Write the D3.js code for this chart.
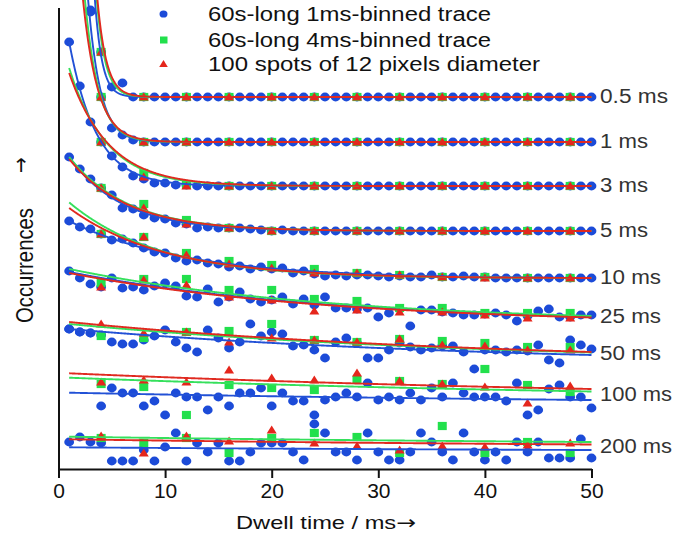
<!DOCTYPE html>
<html>
<head>
<meta charset="utf-8">
<script src="https://cdn.jsdelivr.net/npm/d3@7/dist/d3.min.js"></script>
<style>
  body { margin: 0; background: #fff; }
  svg { display: block; }
  text { font-family: "Liberation Sans", Arial, Helvetica, sans-serif; fill: #1a1a1a; }
</style>
</head>
<body>
<svg id="chart" width="677" height="535"></svg>
<script>
// Dwell-time histograms, each trace shifted upward by its own baseline.
// Values are occurrences above the trace baseline (arbitrary units).
const dwell1 = d3.range(1, 51);        // 1 ms bins
const dwell4 = d3.range(4, 49, 4);     // 4 ms bins
const xTicks = [0, 10, 20, 30, 40, 50];

const traceNames = ["0.5 ms", "1 ms", "3 ms", "5 ms", "10 ms", "25 ms", "50 ms", "100 ms", "200 ms"];
const traceBase  = [372, 327, 283, 238, 191, 152, 114, 69, 19];

const legendLabels = [
  "60s-long 1ms-binned trace",
  "60s-long 4ms-binned trace",
  "100 spots of 12 pixels diameter"
];

// 60 s trace, 1 ms binning
const blue_05 = [400,250,87,45,10,14,0,0,0,0, 0,0,0,0,0,0,0,0,0,0, 0,0,0,0,0,0,0,0,0,0, 0,0,0,0,0,0,0,0,0,0, 0,0,0,0,0,0,0,0,0,0];
const blue_1  = [600,300,130,45,14,7,2,0,0,0, 0,0,0,0,0,0,0,0,0,0, 0,0,0,0,0,0,0,0,0,0, 0,0,0,0,0,0,0,0,0,0, 0,0,0,0,0,0,0,0,0,0];
const blue_3  = [144,100,64,44,30,19,10,7,3,3, 1,1,0,0,0,0,0,0,0,0, 0,0,0,0,0,0,0,0,0,0, 0,0,0,0,0,0,0,0,0,0, 0,0,0,0,0,0,0,0,0,0];
const blue_5  = [74,62,52,43,36,23,22,16,13,12, 8,7,3,4,3,3,3,2,1,0, 1,0,0,0,0,0,0,0,0,0, 0,0,0,0,0,0,0,0,0,0, 0,0,0,0,0,0,0,0,0,0];
const blue_10 = [57,51,49,44,38,39,35,30,26,25, 20,17,18,15,14,11,12,9,11,9, 10,5,7,4,2,3,2,3,3,2, 1,2,1,1,3,1,1,2,1,1, 0,0,0,0,0,0,0,0,0,0];
const blue_25 = [46,39,33,30,39,29,30,27,31,34, 31,21,20,28,15,20,25,18,15,17, 20,13,18,12,20,9,9,8,9,0, 4,8,-9,7,7,5,4,2,2,3, 4,2,-4,1,6,8,0,0,2,2];
const blue_50 = [26,23,22,20,13,11,11,15,19,25, 13,7,3,25,17,7,13,31,19,23, 21,9,10,5,-3,13,17,12,-3,-3, 5,12,8,5,7,9,9,3,-14,5, 5,3,5,4,10,-5,-8,15,10,6];
const blue_100 = [71,68,67,-6,12,7,7,-6,-1,-15, 7,3,3,-10,3,-6,7,7,12,-6, 7,-1,-1,-15,0,3,7,3,17,0, 3,0,7,0,12,3,17,7,3,3, 3,-1,17,-15,-10,11,15,3,3,-8];
const blue_200 = [8,13,8,7,-11,-11,-11,0,-11,3, 17,-11,7,-2,7,-11,-11,-2,7,7, 7,-2,-10,26,17,-2,-2,-10,17,-2, -10,-10,-2,17,8,-2,-10,17,-2,-10, -2,-10,8,-2,8,-8,-8,-8,11,-8];

// 60 s trace, 4 ms binning
const green_05  = [45,0,0,0,0,0,0,0,0,0,0,0];
const green_1   = [45,0,0,0,0,0,0,0,0,0,0,0];
const green_3   = [44,13,1,0,0,0,0,0,0,0,0,0];
const green_5   = [43,27,11,3,0,0,0,0,0,0,0,0];
const green_10  = [44,41,25,17,13,9,5,3,1,1,0,0];
const green_25  = [34,38,38,27,27,18,16,9,9,4,4,4];
const green_50  = [19,17,23,24,31,15,13,16,14,12,8,8];
const green_100 = [16,13,-15,15,12,10,20,19,16,31,15,8];
const green_200 = [12,7,12,-3,12,17,13,-3,24,-3,8,-3];

// 100 spots of 12 pixels diameter
const red_05  = [45,0,0,0,0,0,0,0,0,0,0,0];
const red_1   = [45,0,0,0,0,0,0,0,0,0,0,0];
const red_3   = [44,9,0,0,0,0,0,0,0,0,0,0];
const red_5   = [43,23,7,3,0,0,0,0,0,0,0,0];
const red_10  = [44,41,23,14,10,5,5,3,1,0,0,0];
const red_25  = [30,37,32,20,17,6,7,5,5,2,-1,-1];
const red_50  = [31,22,23,13,17,15,13,16,10,9,5,5];
const red_100 = [18,20,18,30,22,20,27,19,16,13,-3,14];
const red_200 = [14,-3,14,9,20,7,4,0,4,3,5,7];

// Exponential fits: [value at 1 ms, value at 50 ms, decay constant in ms]
const fitBlue  = [[3392,0,0.68],[668,0,1.15],[144,0,2.55],[74,0,5],[57,0,11],[45,0,25],[26,0,40],[7.3,0,60],[2.7,0,60]];
const fitGreen = [[2470,0,0.8],[444,0,1.3],[118,0,3.5],[74,0,5.5],[75.6,0,8.5],[48,1,25],[31,2.5,40],[22.3,8.5,60],[13.3,8,60]];
const fitRed   = [[2208,0,0.85],[357,0,1.41],[113,0,3.72],[72,0,5.5],[70,0,9],[44,-0.5,25],[33,3,40],[26.7,11,60],[10.7,5.5,60]];

const blueSets  = [blue_05, blue_1, blue_3, blue_5, blue_10, blue_25, blue_50, blue_100, blue_200];
const greenSets = [green_05, green_1, green_3, green_5, green_10, green_25, green_50, green_100, green_200];
const redSets   = [red_05, red_1, red_3, red_5, red_10, red_25, red_50, red_100, red_200];

const COLORS = { blue: "#1c4bd8", green: "#22e04c", red: "#e5261c" };
const LINE_COLORS = { blue: "#2251d6", green: "#35e05c", red: "#e02a20" };
const ARROW_FONT = "'DejaVu Sans', sans-serif";

const svg = d3.select("#chart");
const W = 677, H = 535;
const axisY = 469;

const x = d3.scaleLinear().domain([0, 50]).range([58.5, 591.5]);
const y = d3.scaleLinear().domain([0, 469]).range([axisY, 0]);

function fitFn([y1, y50, tau]) {
  const e1 = Math.exp(-1 / tau), e50 = Math.exp(-50 / tau);
  const A = (y1 - y50) / (e1 - e50);
  const c = y50 - A * e50;
  return t => c + A * Math.exp(-t / tau);
}

svg.append("defs").append("clipPath").attr("id", "plotClip")
  .append("rect").attr("x", 59).attr("y", 0).attr("width", W - 59).attr("height", axisY);

const plot = svg.append("g").attr("clip-path", "url(#plotClip)");

const tFine = d3.range(1, 50.0001, 0.05);
const line = d3.line().x(d => x(d[0])).y(d => y(d[1]));

const traces = traceNames.map((name, i) => ({
  name,
  base: traceBase[i],
  blue: blueSets[i].map((v, k) => [dwell1[k], traceBase[i] + v]),
  green: greenSets[i].map((v, k) => [dwell4[k], traceBase[i] + v]),
  red: redSets[i].map((v, k) => [dwell4[k], traceBase[i] + v]),
  fb: fitFn(fitBlue[i]), fg: fitFn(fitGreen[i]), fr: fitFn(fitRed[i])
}));

// markers are drawn slightly wider than tall
const triPath = "M0,-4.6L5,3.6L-5,3.6Z";
const sqW = 9, sqH = 8.2;

traces.forEach(tr => {
  const g = plot.append("g");
  g.selectAll("ellipse").data(tr.blue).join("ellipse")
    .attr("cx", d => x(d[0])).attr("cy", d => y(d[1])).attr("rx", 4.9).attr("ry", 4.4)
    .attr("fill", COLORS.blue);
  g.selectAll("rect").data(tr.green).join("rect")
    .attr("x", d => x(d[0]) - sqW / 2).attr("y", d => y(d[1]) - sqH / 2)
    .attr("width", sqW).attr("height", sqH).attr("fill", COLORS.green);
  g.selectAll("path.tri").data(tr.red).join("path").attr("class", "tri")
    .attr("d", triPath)
    .attr("transform", d => `translate(${x(d[0])},${y(d[1])})`)
    .attr("fill", COLORS.red);
});

// fit curves
traces.forEach(tr => {
  [["blue", tr.fb], ["green", tr.fg], ["red", tr.fr]].forEach(([c, f]) => {
    const pts = tFine.map(t => [t, tr.base + Math.min(f(t), 2000)]);
    plot.append("path").attr("d", line(pts))
      .attr("fill", "none").attr("stroke", LINE_COLORS[c]).attr("stroke-width", 1.9);
  });
});

// trace labels
const labelWidths = { "0.5 ms": 68, "1 ms": 48, "3 ms": 48, "5 ms": 48, "10 ms": 61, "25 ms": 61, "50 ms": 61, "100 ms": 72, "200 ms": 72 };
traces.forEach(tr => {
  const yEnd = (y(tr.base + tr.fb(50)) + y(tr.base + tr.fr(50))) / 2 - 1;
  svg.append("text").attr("x", 600).attr("y", yEnd + 7.2)
    .attr("font-size", 20).attr("textLength", labelWidths[tr.name])
    .attr("lengthAdjust", "spacingAndGlyphs").style("fill", "#333")
    .text(tr.name);
});

// axes
const xAxis = d3.axisBottom(x).tickValues(xTicks).tickSize(9).tickSizeOuter(0).tickPadding(5);
const gx = svg.append("g").attr("transform", `translate(0,${axisY})`).call(xAxis);
gx.select(".domain").attr("stroke", "#111").attr("stroke-width", 2);
gx.selectAll(".tick line").attr("stroke", "#111").attr("stroke-width", 2);
gx.selectAll(".tick text").attr("font-size", 21)
  .style("fill", "#111").attr("dy", "0.71em");

svg.append("line").attr("x1", 59).attr("x2", 59).attr("y1", 8).attr("y2", axisY + 1)
  .attr("stroke", "#111").attr("stroke-width", 2);

// axis titles
const xt = svg.append("text").attr("x", 236).attr("y", 529).attr("font-size", 19)
  .attr("textLength", 180).attr("lengthAdjust", "spacingAndGlyphs").style("fill", "#111");
xt.append("tspan").text("Dwell time / ms");
xt.append("tspan").style("font-family", ARROW_FONT).attr("font-size", 19).text("\u2192");

svg.append("text").attr("transform", "translate(33,323) scale(1.22,1) rotate(-90)")
  .attr("font-size", 20).attr("textLength", 115).attr("lengthAdjust", "spacingAndGlyphs")
  .style("fill", "#111").text("Occurrences");
svg.append("text").attr("transform", "translate(28,173) scale(1.15,1) rotate(-90)")
  .attr("font-size", 19).style("font-family", ARROW_FONT).style("fill", "#111").text("\u2192");

// legend
const legendY = [14, 40, 64];
const legendW = [283, 283, 332];
const lg = svg.append("g");
lg.append("ellipse").attr("cx", 163.5).attr("cy", legendY[0]).attr("rx", 4).attr("ry", 3.6).attr("fill", COLORS.blue);
lg.append("rect").attr("x", 160).attr("y", legendY[1] - 3.5).attr("width", 7.5).attr("height", 7).attr("fill", COLORS.green);
lg.append("path").attr("d", "M0,-4L4.3,3L-4.3,3Z")
  .attr("transform", `translate(163.5,${legendY[2]})`).attr("fill", COLORS.red);
legendLabels.forEach((s, i) => {
  lg.append("text").attr("x", 208).attr("y", legendY[i] + 7)
    .attr("font-size", 20).attr("textLength", legendW[i]).attr("lengthAdjust", "spacingAndGlyphs")
    .style("fill", "#111").text(s);
});
</script>
</body>
</html>
